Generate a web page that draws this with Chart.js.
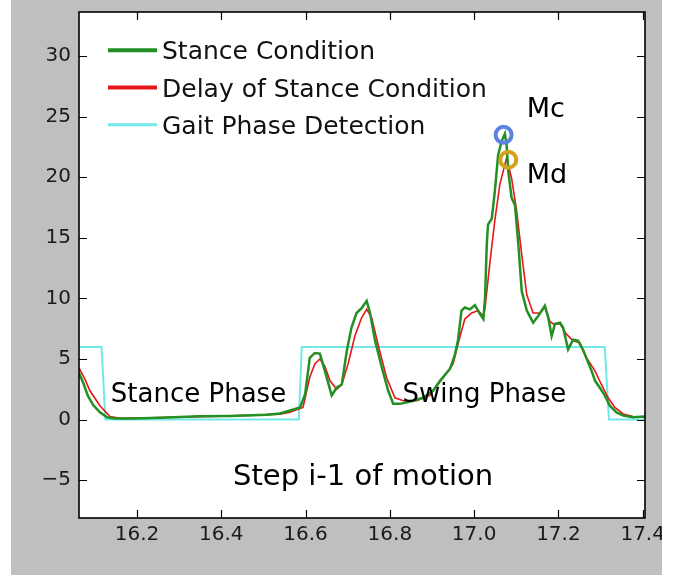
<!DOCTYPE html>
<html>
<head>
<meta charset="utf-8">
<title>Stance Condition</title>
<script src="https://cdn.jsdelivr.net/npm/chart.js@4.4.0/dist/chart.umd.min.js"></script>
<style>
  html, body { margin: 0; padding: 0; background: #ffffff; }
  #gaitChart { position: absolute; left: 0; top: 0; }
</style>
</head>
<body>
<canvas id="gaitChart" width="662" height="575"></canvas>
<script>
// Data
const stanceTime = [16.062, 16.074, 16.083, 16.096, 16.112, 16.129, 16.148, 16.191, 16.255, 16.349, 16.421, 16.508, 16.539, 16.563, 16.587, 16.599, 16.610, 16.622, 16.634, 16.646, 16.662, 16.674, 16.686, 16.698, 16.709, 16.721, 16.733, 16.745, 16.753, 16.765, 16.781, 16.796, 16.808, 16.824, 16.848, 16.879, 16.903, 16.919, 16.943, 16.954, 16.962, 16.970, 16.978, 16.990, 17.002, 17.014, 17.022, 17.026, 17.030, 17.033, 17.042, 17.049, 17.057, 17.065, 17.073, 17.077, 17.081, 17.089, 17.097, 17.105, 17.113, 17.125, 17.140, 17.152, 17.168, 17.176, 17.184, 17.192, 17.204, 17.211, 17.223, 17.235, 17.247, 17.259, 17.279, 17.287, 17.298, 17.310, 17.322, 17.338, 17.354, 17.377, 17.405];
const stanceValue = [3.9, 2.9, 2.0, 1.2, 0.6, 0.2, 0.1, 0.1, 0.15, 0.27, 0.3, 0.4, 0.5, 0.75, 1.0, 2.1, 5.1, 5.5, 5.45, 4.0, 2.0, 2.65, 2.9, 5.7, 7.6, 8.8, 9.2, 9.8, 8.8, 6.5, 4.3, 2.4, 1.3, 1.3, 1.5, 1.8, 2.4, 3.2, 4.2, 5.3, 6.6, 9.0, 9.25, 9.1, 9.45, 8.7, 8.3, 10.1, 14.45, 16.1, 16.6, 18.8, 21.85, 22.95, 23.6, 22.7, 20.5, 18.3, 17.7, 14.45, 10.6, 9.0, 8.0, 8.55, 9.4, 8.4, 6.9, 7.9, 8.0, 7.6, 5.8, 6.6, 6.5, 5.7, 4.0, 3.2, 2.65, 2.0, 1.15, 0.6, 0.33, 0.2, 0.25];

const delayTime = [16.062, 16.077, 16.088, 16.112, 16.136, 16.160, 16.231, 16.349, 16.468, 16.539, 16.563, 16.594, 16.610, 16.622, 16.634, 16.646, 16.658, 16.674, 16.686, 16.701, 16.717, 16.733, 16.745, 16.757, 16.772, 16.792, 16.812, 16.832, 16.864, 16.895, 16.927, 16.950, 16.966, 16.978, 16.994, 17.010, 17.022, 17.026, 17.037, 17.049, 17.061, 17.077, 17.089, 17.101, 17.113, 17.125, 17.140, 17.156, 17.168, 17.180, 17.188, 17.204, 17.219, 17.235, 17.251, 17.267, 17.287, 17.302, 17.318, 17.334, 17.354, 17.377, 17.405];
const delayValue = [4.3, 3.3, 2.4, 1.15, 0.25, 0.1, 0.15, 0.25, 0.35, 0.45, 0.6, 1.0, 3.5, 4.6, 5.0, 4.4, 3.2, 2.5, 2.9, 4.6, 6.9, 8.4, 9.1, 8.4, 6.2, 3.5, 1.8, 1.56, 1.56, 2.0, 3.5, 4.6, 6.8, 8.3, 8.8, 9.0, 8.55, 9.25, 12.8, 16.4, 19.4, 21.6, 19.9, 17.2, 13.6, 10.3, 8.8, 8.8, 9.25, 8.1, 7.9, 7.9, 7.05, 6.5, 6.35, 5.1, 4.0, 2.9, 1.8, 1.0, 0.47, 0.25, 0.2];

const gaitTime = [16.062, 16.116, 16.125, 16.584, 16.591, 17.310, 17.320, 17.405];
const gaitValue = [6, 6, 0, 0, 6, 6, 0, 0];

// Mc / Md peak markers
const markerTime = [17.070, 17.081];
const markerValue = [23.5, 21.45];

const xTicks = [16.2, 16.4, 16.6, 16.8, 17.0, 17.2, 17.4];
const yTicks = [-5, 0, 5, 10, 15, 20, 25, 30];

const FONT = 'DejaVu Sans';

function zip(xs, ys) {
    return xs.map((x, i) => ({ x: x, y: ys[i] }));
}

// Text placed in data coordinates
const notes = [
    { text: 'Stance Phase', x: 16.138, y: 1.48, size: 26 },
    { text: 'Swing Phase', x: 16.830, y: 1.48, size: 26 },
    { text: 'Step i-1 of motion', x: 16.428, y: -5.43, size: 29 },
    { text: 'Mc', x: 17.125, y: 25.0, size: 27 },
    { text: 'Md', x: 17.125, y: 19.52, size: 27 }
];

// Legend rows: dataset index + line thickness
const legendRows = [
    { ds: 1, width: 4 },
    { ds: 2, width: 4 },
    { ds: 3, width: 3 }
];

// Stop Chart.js from reserving room for overhanging tick labels
function fixedBox(size, prop) {
    return s => {
        s[prop] = size;
        s.paddingTop = 0;
        s.paddingBottom = 0;
        s.paddingLeft = 0;
        s.paddingRight = 0;
    };
}

// Gray figure background, white axes area
const backgroundPlugin = {
    id: 'figureBg',
    beforeDraw(chart) {
        const { ctx, chartArea, width, height } = chart;
        ctx.save();
        ctx.fillStyle = '#bfbfbf';
        ctx.fillRect(11, 0, width - 11, height);
        ctx.fillStyle = '#ffffff';
        ctx.fillRect(chartArea.left, chartArea.top, chartArea.right - chartArea.left, chartArea.bottom - chartArea.top);
        ctx.restore();
    }
};

// Black frame with inward tick marks on all four sides
const framePlugin = {
    id: 'frame',
    afterDatasetsDraw(chart) {
        const { ctx, chartArea, scales } = chart;
        const { left, right, top, bottom } = chartArea;
        ctx.save();
        ctx.strokeStyle = '#000000';
        ctx.lineWidth = 1.2;
        ctx.beginPath();
        xTicks.forEach(v => {
            const px = Math.round(scales.x.getPixelForValue(v)) + 0.5;
            ctx.moveTo(px, bottom); ctx.lineTo(px, bottom - 8);
            ctx.moveTo(px, top); ctx.lineTo(px, top + 8);
        });
        yTicks.forEach(v => {
            const py = Math.round(scales.y.getPixelForValue(v)) + 0.5;
            ctx.moveTo(left, py); ctx.lineTo(left + 8, py);
            ctx.moveTo(right, py); ctx.lineTo(right - 8, py);
        });
        ctx.stroke();
        ctx.lineWidth = 1.6;
        ctx.strokeRect(left, top, right - left, bottom - top);
        ctx.restore();
    }
};

// Annotations and the legend in the upper-left corner
const textPlugin = {
    id: 'notes',
    afterDatasetsDraw(chart) {
        const { ctx, chartArea, scales } = chart;
        ctx.save();
        ctx.fillStyle = '#000000';
        ctx.textAlign = 'left';
        ctx.textBaseline = 'alphabetic';
        notes.forEach(n => {
            ctx.font = n.size + 'px "' + FONT + '"';
            ctx.fillText(n.text, scales.x.getPixelForValue(n.x), scales.y.getPixelForValue(n.y));
        });

        ctx.font = '25px "' + FONT + '"';
        legendRows.forEach((row, i) => {
            const ds = chart.data.datasets[row.ds];
            const y = chartArea.top + 38.3 + i * 37.2;
            ctx.strokeStyle = ds.borderColor;
            ctx.lineWidth = row.width;
            ctx.beginPath();
            ctx.moveTo(chartArea.left + 29, y);
            ctx.lineTo(chartArea.left + 78, y);
            ctx.stroke();
            ctx.fillStyle = '#111111';
            ctx.fillText(ds.label, chartArea.left + 83, y + 9);
        });
        ctx.restore();
    }
};

document.addEventListener('DOMContentLoaded', () => {
    const ctx = document.getElementById('gaitChart').getContext('2d');

    new Chart(ctx, {
        type: 'scatter',
        data: {
            datasets: [
                {
                    label: 'Peaks',
                    data: zip(markerTime, markerValue),
                    showLine: false,
                    pointRadius: 8,
                    pointBorderWidth: 4,
                    pointBackgroundColor: 'rgba(0,0,0,0)',
                    pointBorderColor: ['#5b84e0', '#d4a21a']
                },
                {
                    label: 'Stance Condition',
                    data: zip(stanceTime, stanceValue),
                    showLine: true,
                    borderColor: '#229022',
                    borderWidth: 2.5,
                    pointRadius: 0,
                    tension: 0
                },
                {
                    label: 'Delay of Stance Condition',
                    data: zip(delayTime, delayValue),
                    showLine: true,
                    borderColor: '#e5171b',
                    borderWidth: 1.6,
                    pointRadius: 0,
                    tension: 0
                },
                {
                    label: 'Gait Phase Detection',
                    data: zip(gaitTime, gaitValue),
                    showLine: true,
                    borderColor: '#72e8e8',
                    borderWidth: 2,
                    pointRadius: 0,
                    tension: 0
                }
            ]
        },
        options: {
            responsive: false,
            animation: false,
            events: [],
            layout: { padding: { left: 0, top: 10, right: 17, bottom: 0 } },
            plugins: {
                legend: { display: false },
                tooltip: { enabled: false }
            },
            scales: {
                x: {
                    type: 'linear',
                    min: 16.0624,
                    max: 17.4055,
                    grid: { display: false, drawTicks: false },
                    border: { display: false },
                    afterBuildTicks: s => { s.ticks = xTicks.map(v => ({ value: v })); },
                    afterFit: fixedBox(57, 'height'),
                    ticks: {
                        autoSkip: false,
                        maxRotation: 0,
                        padding: 5,
                        color: '#1a1a1a',
                        font: { family: FONT, size: 20 },
                        callback: v => Number(v).toFixed(1)
                    }
                },
                y: {
                    type: 'linear',
                    min: -8.12,
                    max: 33.64,
                    grid: { display: false, drawTicks: false },
                    border: { display: false },
                    afterBuildTicks: s => { s.ticks = yTicks.map(v => ({ value: v })); },
                    afterFit: fixedBox(79, 'width'),
                    ticks: {
                        padding: 8,
                        color: '#1a1a1a',
                        font: { family: FONT, size: 20 },
                        callback: v => String(v).replace('-', '\u2212')
                    }
                }
            }
        },
        plugins: [backgroundPlugin, framePlugin, textPlugin]
    });
});
</script>
</body>
</html>
